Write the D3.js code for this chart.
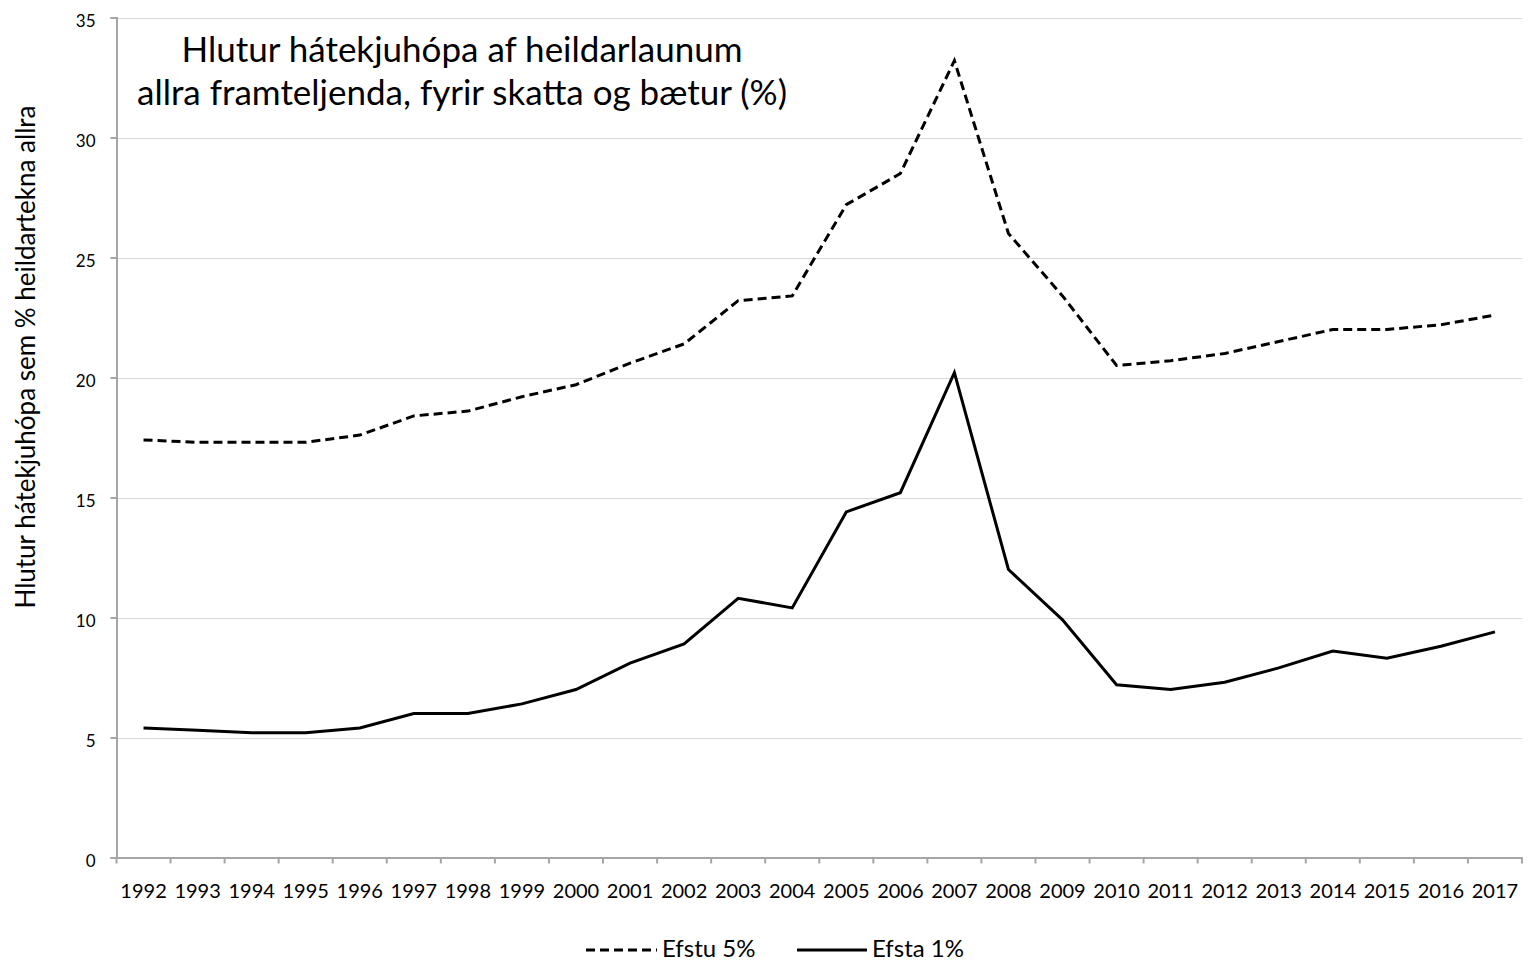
<!DOCTYPE html>
<html><head><meta charset="utf-8">
<script src="https://cdn.jsdelivr.net/npm/d3@7"></script>
<style>body{margin:0;background:#fff}text{font-family:Lato,"Open Sans",sans-serif;fill:#000}</style>
</head><body>
<svg id="c" width="1528" height="963"></svg>
<script>
const years = ["1992","1993","1994","1995","1996","1997","1998","1999","2000","2001","2002","2003","2004","2005","2006","2007","2008","2009","2010","2011","2012","2013","2014","2015","2016","2017"];
const top5 = [17.4,17.3,17.3,17.3,17.6,18.4,18.6,19.2,19.7,20.6,21.4,23.2,23.4,27.2,28.5,33.2,26.0,23.4,20.5,20.7,21.0,21.5,22.0,22.0,22.2,22.6];
const top1 = [5.4,5.3,5.2,5.2,5.4,6.0,6.0,6.4,7.0,8.1,8.9,10.8,10.4,14.4,15.2,20.2,12.0,9.9,7.2,7.0,7.3,7.9,8.6,8.3,8.8,9.4];
const yTicks = [0,5,10,15,20,25,30,35];
const seriesNames = ["Efstu 5%","Efsta 1%"];
const titleLines = ["Hlutur hátekjuhópa af heildarlaunum","allra framteljenda, fyrir skatta og bætur (%)"];
const yLabel = "Hlutur hátekjuhópa sem % heildartekna allra";

const svg = d3.select("#c");
const L=116.5, R=1522, T=17.5, B=857.5;
const x = d3.scaleBand().domain(years).range([L,R]);
const y = d3.scaleLinear().domain([0,35]).range([B,T]);

// gridlines
svg.append("g").selectAll("line").data(yTicks.filter(d=>d>0)).join("line")
  .attr("x1",L).attr("x2",R).attr("y1",d=>Math.round(y(d))+0.5).attr("y2",d=>Math.round(y(d))+0.5)
  .attr("stroke","#d9d9d9").attr("stroke-width",1);

// y axis
const ya = svg.append("g").attr("transform",`translate(${L},0)`)
  .call(d3.axisLeft(y).tickValues(yTicks).tickSize(6).tickPadding(15));
ya.select(".domain").attr("stroke","#a6a6a6").attr("stroke-width",2);
ya.selectAll(".tick line").attr("stroke","#a6a6a6").attr("stroke-width",2);
ya.selectAll("text").style("font-size","17px").attr("fill","#000").attr("dy","0.5em");

// x axis
const xa = svg.append("g").attr("transform",`translate(0,${B})`)
  .call(d3.axisBottom(x).tickSize(0).tickPadding(26));
xa.select(".domain").attr("stroke","#a6a6a6").attr("stroke-width",2);
xa.selectAll("text").style("font-size","20px").attr("fill","#000");
svg.append("g").selectAll("line").data(years.map((d,i)=>i).concat([years.length])).join("line")
  .attr("x1",i=>i<years.length? x(years[i]) : R).attr("x2",i=>i<years.length? x(years[i]) : R)
  .attr("y1",B).attr("y2",B+6).attr("stroke","#a6a6a6").attr("stroke-width",2);

// lines
const line = d3.line().x((d,i)=>x(years[i])+x.bandwidth()/2).y(d=>y(d));
svg.append("path").datum(top5).attr("d",line).attr("fill","none").attr("stroke","#000")
  .attr("stroke-width",3).attr("stroke-dasharray","9,5");
svg.append("path").datum(top1).attr("d",line).attr("fill","none").attr("stroke","#000")
  .attr("stroke-width",3);

// title
svg.append("text").attr("x",462).attr("y",62).attr("text-anchor","middle").style("font-size","35px").text(titleLines[0]);
svg.append("text").attr("x",462).attr("y",105).attr("text-anchor","middle").style("font-size","35px").text(titleLines[1]);

// y label
svg.append("text").attr("transform","translate(35,357) rotate(-90)").attr("text-anchor","middle")
  .style("font-size","26px").text(yLabel);

// legend
const lg = svg.append("g");
lg.append("line").attr("x1",586).attr("x2",657).attr("y1",950).attr("y2",950).attr("stroke","#000").attr("stroke-width",3).attr("stroke-dasharray","9,5");
lg.append("text").attr("x",662).attr("y",957).style("font-size","24px").text(seriesNames[0]);
lg.append("line").attr("x1",797).attr("x2",867).attr("y1",950).attr("y2",950).attr("stroke","#000").attr("stroke-width",3);
lg.append("text").attr("x",872).attr("y",957).style("font-size","24px").text(seriesNames[1]);
</script>
</body></html>
